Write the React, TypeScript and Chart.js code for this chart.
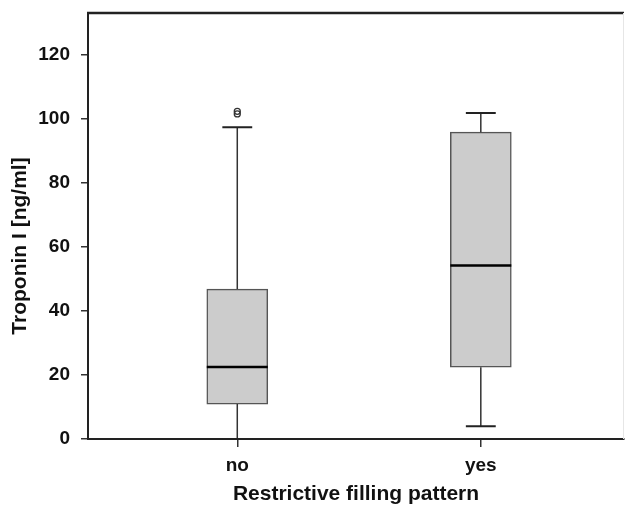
import React, { useEffect, useRef } from "react";
import { Chart, registerables } from "chart.js";

Chart.register(...registerables);

const categories = ["no", "yes"];
const positions = [1, 2];
const whiskerLow = [0, 4];
const q1 = [10.9, 22.4];
const median = [22.5, 54.2];
const q3 = [46.8, 95.8];
const whiskerHigh = [97.3, 101.8];
const outlierX = [1, 1];
const outlierY = [101.5, 102.3];
const yTicks = [0, 20, 40, 60, 80, 100, 120];
const yTitle = "Troponin I [ng/ml]";
const xTitle = "Restrictive filling pattern";

const FONT = "'Liberation Sans', Arial, sans-serif";

const boxPlugin = {
  id: "boxWhiskers",
  afterDatasetsDraw(chart: any) {
    const { ctx, scales } = chart;
    const xs = scales.x;
    const ys = scales.y;
    const meta = chart.getDatasetMeta(0);
    ctx.save();
    positions.forEach((p, i) => {
      const cx = xs.getPixelForValue(p);
      const bw = meta.data[i] ? meta.data[i].width : 61;
      const capHalf = bw * 0.245;
      const yLo = ys.getPixelForValue(whiskerLow[i]);
      const yQ1 = ys.getPixelForValue(q1[i]);
      const yQ3 = ys.getPixelForValue(q3[i]);
      const yHi = ys.getPixelForValue(whiskerHigh[i]);
      const yMed = ys.getPixelForValue(median[i]);
      ctx.strokeStyle = "#333";
      ctx.lineWidth = 1.5;
      ctx.beginPath();
      ctx.moveTo(cx, yQ1);
      ctx.lineTo(cx, yLo);
      ctx.moveTo(cx, yQ3);
      ctx.lineTo(cx, yHi);
      ctx.stroke();
      ctx.lineWidth = 2;
      ctx.strokeStyle = "#222";
      ctx.beginPath();
      ctx.moveTo(cx - capHalf, yLo);
      ctx.lineTo(cx + capHalf, yLo);
      ctx.moveTo(cx - capHalf, yHi);
      ctx.lineTo(cx + capHalf, yHi);
      ctx.stroke();
      ctx.lineWidth = 2.5;
      ctx.strokeStyle = "#000";
      ctx.beginPath();
      ctx.moveTo(cx - bw / 2, yMed);
      ctx.lineTo(cx + bw / 2, yMed);
      ctx.stroke();
    });
    ctx.restore();
  },
  afterDraw(chart: any) {
    const { ctx, chartArea } = chart;
    ctx.save();
    ctx.strokeStyle = "#222";
    ctx.lineWidth = 2.5;
    ctx.beginPath();
    ctx.moveTo(chartArea.left - 1, chartArea.top);
    ctx.lineTo(chartArea.right, chartArea.top);
    ctx.stroke();
    ctx.strokeStyle = "#e6e6e6";
    ctx.lineWidth = 1;
    ctx.beginPath();
    ctx.moveTo(chartArea.right - 0.5, chartArea.top);
    ctx.lineTo(chartArea.right - 0.5, chartArea.bottom);
    ctx.stroke();
    // y-axis title
    ctx.fillStyle = "#111";
    ctx.font = `bold 21px ${FONT}`;
    ctx.textAlign = "center";
    ctx.textBaseline = "middle";
    ctx.translate(20, 246);
    ctx.rotate(-Math.PI / 2);
    ctx.fillText(yTitle, 0, 0);
    ctx.restore();
  },
};

export default function App() {
  const ref = useRef<HTMLCanvasElement>(null);
  useEffect(() => {
    document.body.style.margin = "0";
    const canvas = ref.current;
    if (!canvas) return;
    const chart = new Chart(canvas, {
      type: "bar",
      data: {
        datasets: [
          {
            type: "bar",
            data: positions.map((p, i) => ({ x: p, y: [q1[i], q3[i]] })) as any,
            backgroundColor: "#cccccc",
            borderColor: "#555",
            borderWidth: 1.5,
            borderSkipped: false,
            barThickness: 61,
          } as any,
          {
            type: "scatter",
            data: outlierX.map((x, i) => ({ x, y: outlierY[i] })),
            backgroundColor: "rgba(255,255,255,0)",
            borderColor: "#333",
            borderWidth: 1.3,
            pointRadius: 3,
            pointStyle: "circle",
          } as any,
        ],
      },
      options: {
        animation: false,
        responsive: false,
        layout: { autoPadding: false, padding: { left: 0, right: 1, top: 13, bottom: 0 } },
        plugins: { legend: { display: false }, tooltip: { enabled: false } },
        scales: {
          x: {
            type: "linear",
            min: 0.387,
            max: 2.588,
            offset: false,
            afterBuildTicks: (s: any) => {
              s.ticks = positions.map((v) => ({ value: v }));
            },
            afterFit: (s: any) => {
              s.height = 71;
              s.paddingLeft = 0;
              s.paddingRight = 0;
            },
            grid: {
              offset: false,
              drawOnChartArea: false,
              drawTicks: true,
              tickLength: 8,
              color: "#333",
              lineWidth: 1.5,
            },
            border: { display: true, color: "#222", width: 2 },
            ticks: {
              padding: 7,
              color: "#111",
              font: { family: FONT, size: 19, weight: "bold" },
              callback: (v: any) => categories[positions.indexOf(Number(v))] ?? "",
            },
            title: {
              display: true,
              text: xTitle,
              color: "#111",
              font: { family: FONT, size: 21, weight: "bold" },
              padding: { top: 4, bottom: 3 },
            },
          },
          y: {
            type: "linear",
            min: 0,
            max: 133,
            afterBuildTicks: (s: any) => {
              s.ticks = yTicks.map((v) => ({ value: v }));
            },
            afterFit: (s: any) => {
              s.width = 88;
              s.paddingTop = 0;
              s.paddingBottom = 0;
            },
            grid: {
              drawOnChartArea: false,
              drawTicks: true,
              tickLength: 7,
              color: "#333",
              lineWidth: 1.5,
            },
            border: { display: true, color: "#222", width: 2 },
            ticks: {
              padding: 11,
              color: "#111",
              font: { family: FONT, size: 19, weight: "bold" },
            },
          },
        },
      },
      plugins: [boxPlugin],
    } as any);
    return () => chart.destroy();
  }, []);
  return (
    <div style={{ width: 625, height: 510 }}>
      <canvas ref={ref} width={625} height={510} style={{ display: "block" }} />
    </div>
  );
}
